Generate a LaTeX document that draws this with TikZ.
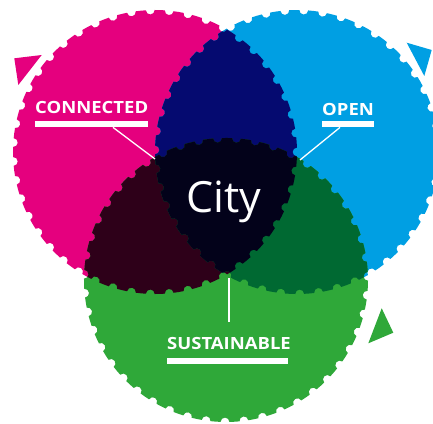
\documentclass[tikz,border=0pt]{standalone}
\usepackage{fontspec}
\setmainfont{Open Sans}
\definecolor{cpink}{HTML}{E5007E}
\definecolor{cblue}{HTML}{009FE3}
\definecolor{cgreen}{HTML}{2FA839}
\definecolor{cnavy}{HTML}{050A70}
\definecolor{cmaroon}{HTML}{2E0019}
\definecolor{cdkgreen}{HTML}{006932}
\definecolor{cblack}{HTML}{03021A}
\def\R{142}
\def\bite{4.4}
\def\N{47}
\pgfmathsetmacro\al{2*asin(\bite/(2*\R))}
\pgfmathsetmacro\dt{360/\N}
\newcommand\perf[1]{({#1+\al}:\R pt)
  \foreach \k in {1,...,\N}{
    arc[start angle={#1+(\k-1)*\dt+\al}, end angle={#1+\k*\dt-\al}, radius=\R pt]
    arc[start angle={#1+\k*\dt-90-\al/2}, end angle={#1+\k*\dt-270+\al/2}, radius=\bite pt]
  } -- cycle}
\newcommand\widelbl[1]{\scalebox{1.1}[1]{#1}}
\tikzset{
  lbl/.style={font=\bfseries\fontsize{16.8}{16.8}\selectfont, text=white, inner sep=0pt},
  labelbar/.style={fill=white, inner sep=0pt, minimum height=6pt},
  conn/.style={white, line width=1.3pt}
}
\begin{document}
\begin{tikzpicture}[x=1pt,y=1pt]
\useasboundingbox (0,0) rectangle (433,423);
\coordinate (P) at (155,271);
\coordinate (B) at (297,271);
\coordinate (G) at (226,143);
% base circles
\fill[cpink, shift={(P)}] \perf{0};
\fill[cblue, shift={(B)}] \perf{3};
\fill[cgreen, shift={(G)}] \perf{1.5};
% pairwise overlaps
\begin{scope}
  \clip[shift={(P)}] \perf{0};
  \fill[cnavy, shift={(B)}] \perf{3};
  \fill[cmaroon, shift={(G)}] \perf{1.5};
\end{scope}
\begin{scope}
  \clip[shift={(B)}] \perf{3};
  \fill[cdkgreen, shift={(G)}] \perf{1.5};
\end{scope}
\begin{scope}
  \clip[shift={(P)}] \perf{0};
  \clip[shift={(B)}] \perf{3};
  \fill[cblack, shift={(G)}] \perf{1.5};
\end{scope}
% arrow triangles
\fill[cpink] (14.3,364.7) -- (41.7,368) -- (18.3,338) -- cycle;
\fill[cblue] (406.7,380.3) -- (431.7,373) -- (424.3,347) -- cycle;
\fill[cgreen] (381.7,114.7) -- (393.3,90.3) -- (368.3,79.7) -- cycle;
% City
\node[text=white, inner sep=0pt, anchor=base, font=\fontsize{43}{43}\selectfont] (city) at (224,210) {City};
% labels
\node[lbl, anchor=base west] (tc) at (35,309) {\widelbl{CONNECTED}};
\node[labelbar, anchor=north west, minimum width=113pt] (bc) at (35,302) {};
\coordinate (ec) at (155,264);
\draw[conn] ([xshift=78pt]bc.south west) -- (ec);

\node[lbl, anchor=base west] (to) at (322,307) {\widelbl{OPEN}};
\node[labelbar, anchor=north west, minimum width=52pt] (bo) at (322,302) {};
\coordinate (eo) at (300,263);
\draw[conn] ([xshift=18pt]bo.south west) -- (eo);

\node[lbl, anchor=base west] (ts) at (167,74) {\widelbl{SUSTAINABLE}};
\node[labelbar, anchor=north west, minimum width=121pt] (bs) at (167,65) {};
\coordinate (es) at (229,145);
\coordinate (ss) at (229,101);
\draw[conn] (ss) -- (es);
\end{tikzpicture}
\end{document}
